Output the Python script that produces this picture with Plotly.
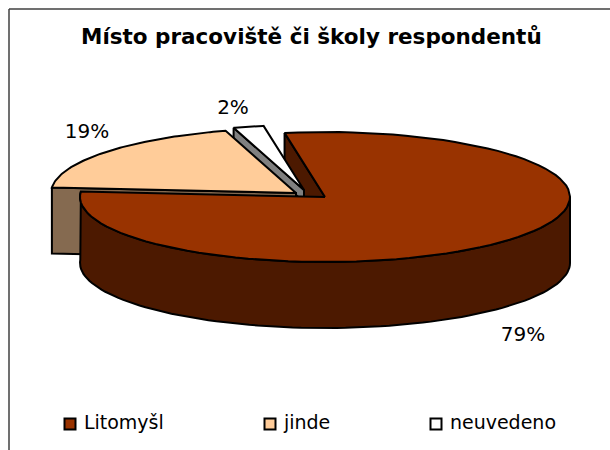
import numpy as np
import plotly.graph_objects as go

title = "Místo pracoviště či školy respondentů"
categories = ["Litomyšl", "jinde", "neuvedeno"]
values = [79, 19, 2]
labels = ["79%", "19%", "2%"]
colors = ["#993300", "#FFCC99", "#FFFFFF"]
wall_colors = ["#4C1900", "#856A50", "#808080"]

# pie geometry (pixel space of the 610x450 page)
START = -9.5
RX, RY, DEPTH = 245, 65, 66
CENTERS = [(325, 197), (296, 193), (304, 190)]
FONT = "DejaVu Sans"
EDGE = "#000000"

spans = [v / sum(values) * 360 for v in values]
starts = [START + sum(spans[:i]) for i in range(3)]


def rim(c, a0, a1, dy=0, n=90):
    t = np.radians(np.linspace(a0, a1, n))
    return c[0] + RX * np.sin(t), c[1] - RY * np.cos(t) + dy


fig = go.Figure()


def poly(x, y, fill):
    fig.add_trace(go.Scatter(x=list(x) + [x[0]], y=list(y) + [y[0]], mode="lines", fill="toself",
                             fillcolor=fill, line=dict(color=EDGE, width=2),
                             hoverinfo="skip", showlegend=False))


def top(i):
    c = CENTERS[i]
    x, y = rim(c, starts[i], starts[i] + spans[i])
    poly(np.r_[c[0], x], np.r_[c[1], y], colors[i])


def cut_face(i, angle, d=DEPTH):
    c = CENTERS[i]
    x, y = rim(c, angle, angle, n=1)
    poly([x[0], c[0], c[0], x[0]], [y[0], c[1], c[1] + d, y[0] + d], wall_colors[i])


# back to front
cut_face(0, starts[0])                 # big slice start face, mostly hidden
cut_face(2, starts[2], d=12)           # narrow grey sliver of the small slice
top(2)
cut_face(1, starts[1])                 # peach front cut face
top(1)
# big slice outer wall
c = CENTERS[0]
a_end = starts[0] + spans[0]
xa, ya = rim(c, 90, a_end)
xb, yb = rim(c, a_end, 90, dy=DEPTH)
poly(np.r_[xa, xb], np.r_[ya, yb], wall_colors[0])
top(0)

# percentage labels
fig.add_trace(go.Scatter(x=[523, 87, 233], y=[336, 133, 109], mode="text", text=labels,
                         textfont=dict(family=FONT, size=20, color="#000000"),
                         hoverinfo="skip", showlegend=False))
# legend
fig.add_trace(go.Scatter(x=[70, 270, 436], y=[424, 424, 424], mode="markers+text",
                         text=[" " + s for s in categories], textposition="middle right",
                         textfont=dict(family=FONT, size=19, color="#000000"),
                         marker=dict(symbol="square", size=11, color=colors,
                                     line=dict(color="#000000", width=2)),
                         hoverinfo="skip", showlegend=False))

fig.update_layout(
    width=610, height=450, margin=dict(l=0, r=0, t=0, b=0),
    paper_bgcolor="#FFFFFF", plot_bgcolor="#FFFFFF", showlegend=False,
    xaxis=dict(range=[0, 610], visible=False, fixedrange=True),
    yaxis=dict(range=[450, 0], visible=False, fixedrange=True),
    shapes=[dict(type="line", xref="x", yref="y", x0=9, y0=9, x1=610, y1=9,
                 line=dict(color="#404040", width=1.5)),
            dict(type="line", xref="x", yref="y", x0=9, y0=9, x1=9, y1=450,
                 line=dict(color="#404040", width=1.5))],
    annotations=[dict(x=311, y=36, xref="x", yref="y", text="<b>" + title + "</b>", showarrow=False,
                      font=dict(family=FONT, size=21.5, color="#000000"))],
)
fig.write_html("out.html", config={"displayModeBar": False},
               post_script="document.body.style.margin='0';document.documentElement.style.overflow='hidden';")
